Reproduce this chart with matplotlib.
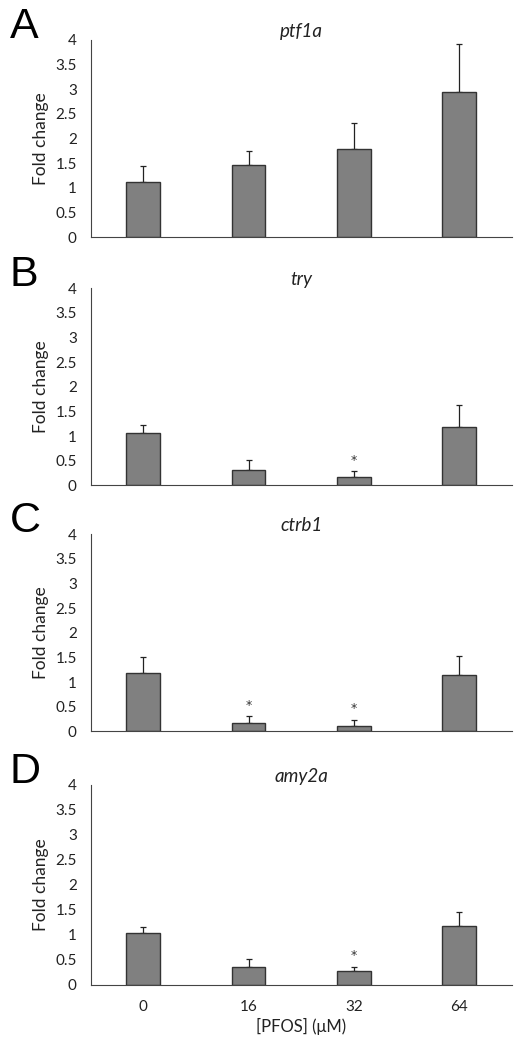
import matplotlib.pyplot as plt
import numpy as np

plt.rcParams['font.family'] = ['Lato', 'DejaVu Sans']

doses = ["0", "16", "32", "64"]
genes = ["ptf1a", "try", "ctrb1", "amy2a"]
letters = ["A", "B", "C", "D"]

ptf1a_mean = [1.12, 1.455, 1.79, 2.94]
ptf1a_err = [0.32, 0.30, 0.52, 0.97]
try_mean = [1.056, 0.317, 0.17, 1.18]
try_err = [0.17, 0.20, 0.11, 0.44]
ctrb1_mean = [1.18, 0.17, 0.11, 1.15]
ctrb1_err = [0.32, 0.13, 0.11, 0.385]
amy2a_mean = [1.03, 0.355, 0.275, 1.175]
amy2a_err = [0.13, 0.165, 0.085, 0.285]

ptf1a_sig = [False, False, False, False]
try_sig = [False, False, True, False]
ctrb1_sig = [False, True, True, False]
amy2a_sig = [False, False, True, False]

means = [ptf1a_mean, try_mean, ctrb1_mean, amy2a_mean]
errs = [ptf1a_err, try_err, ctrb1_err, amy2a_err]
sigs = [ptf1a_sig, try_sig, ctrb1_sig, amy2a_sig]

fig = plt.figure(figsize=(5.29, 10.49), dpi=100)

# axes boxes (left, bottom, width, height) in figure fraction
left = 0.1715
width = 0.967 - left
bottoms = [0.774, 0.5374, 0.3029, 0.0613]
tops = [0.962, 0.7252, 0.4907, 0.2517]

x = np.arange(len(doses))
for i in range(4):
    ax = fig.add_axes([left, bottoms[i], width, tops[i] - bottoms[i]])
    ax.bar(x, means[i], width=0.32, color="#808080", edgecolor="#333333",
           linewidth=1.0, zorder=2)
    ax.errorbar(x, means[i], yerr=[[0] * 4, errs[i]], fmt="none",
                ecolor="#222222", elinewidth=0.9, capsize=2.5, capthick=0.9,
                zorder=1)
    for j in range(4):
        if sigs[i][j]:
            ax.text(x[j], means[i][j] + errs[i][j] + 0.1, "*",
                    ha="center", va="bottom", fontsize=9, color="#333333",
                    family="DejaVu Sans")
    ax.set_xlim(-0.5, 3.5)
    ax.set_ylim(0, 4)
    ax.set_yticks(np.arange(0, 4.01, 0.5))
    ax.set_yticklabels(["0", "0.5", "1", "1.5", "2", "2.5", "3", "3.5", "4"])
    ax.tick_params(axis="both", length=0, labelsize=11, colors="#222222",
                   pad=10)
    ax.set_xticks(x)
    if i == 3:
        ax.set_xticklabels(doses)
        ax.set_xlabel("[PFOS] (\u03bcM)", fontsize=12, color="#222222",
                      labelpad=3)
        ax.tick_params(axis="x", pad=11)
    else:
        ax.set_xticklabels([])
    ax.set_ylabel("Fold change", fontsize=12.5, color="#222222", labelpad=5)
    ax.set_title(genes[i], fontstyle="italic", fontsize=13.5, pad=1,
                 color="#222222")
    for s in ["top", "right"]:
        ax.spines[s].set_visible(False)
    ax.spines["left"].set_color("#444444")
    ax.spines["bottom"].set_color("#444444")
    fig.text(0.018, tops[i] + 0.0124, letters[i], fontsize=31,
             family="Liberation Sans", va="center", ha="left")

plt.savefig("out.png", dpi=100)
